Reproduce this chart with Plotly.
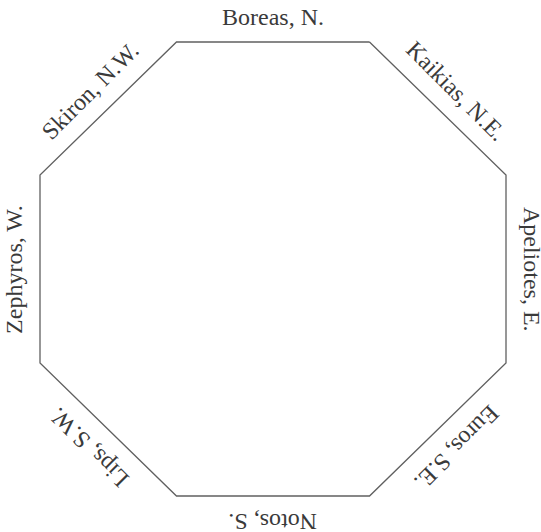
import numpy as np
import plotly.graph_objects as go

# Winds of the Tower of the Winds, by compass bearing (degrees clockwise from north)
wind_names = ["Boreas, N.", "Kaikias, N.E.", "Apeliotes, E.", "Euros, S.E.",
              "Notos, S.", "Lips, S.W.", "Zephyros, W.", "Skiron, N.W."]
bearings = [0, 45, 90, 135, 180, 225, 270, 315]

APOTHEM = 1.0
LABEL_R = 1.112

# octagon vertices lie between the wind directions
vert_bearings = [b + 22.5 for b in bearings] + [bearings[0] + 22.5]
R = APOTHEM / np.cos(np.radians(22.5))
vx = [R * np.sin(np.radians(b)) for b in vert_bearings]
vy = [R * np.cos(np.radians(b)) for b in vert_bearings]

fig = go.Figure()
fig.add_trace(go.Scatter(x=vx, y=vy, mode="lines",
                         line=dict(color="#606060", width=1.3),
                         hoverinfo="skip", showlegend=False))

for name, b in zip(wind_names, bearings):
    ang = b if b <= 180 else b - 360
    fig.add_annotation(x=LABEL_R * np.sin(np.radians(b)),
                       y=LABEL_R * np.cos(np.radians(b)),
                       text=name, showarrow=False, textangle=ang,
                       xanchor="center", yanchor="middle",
                       font=dict(family="Liberation Serif", size=24, color="#3a3a3a"))

fig.update_layout(
    width=541, height=532,
    margin=dict(l=0, r=0, t=0, b=0),
    paper_bgcolor="white", plot_bgcolor="white",
    xaxis=dict(range=[-273 / 233, (541 - 273) / 233], visible=False, fixedrange=True),
    yaxis=dict(range=[-(532 - 269) / 227, 269 / 227], visible=False, fixedrange=True),
)
fig.write_html("out.html", config={"displayModeBar": False},
               post_script="document.body.style.margin='0';document.body.style.overflow='hidden';")
